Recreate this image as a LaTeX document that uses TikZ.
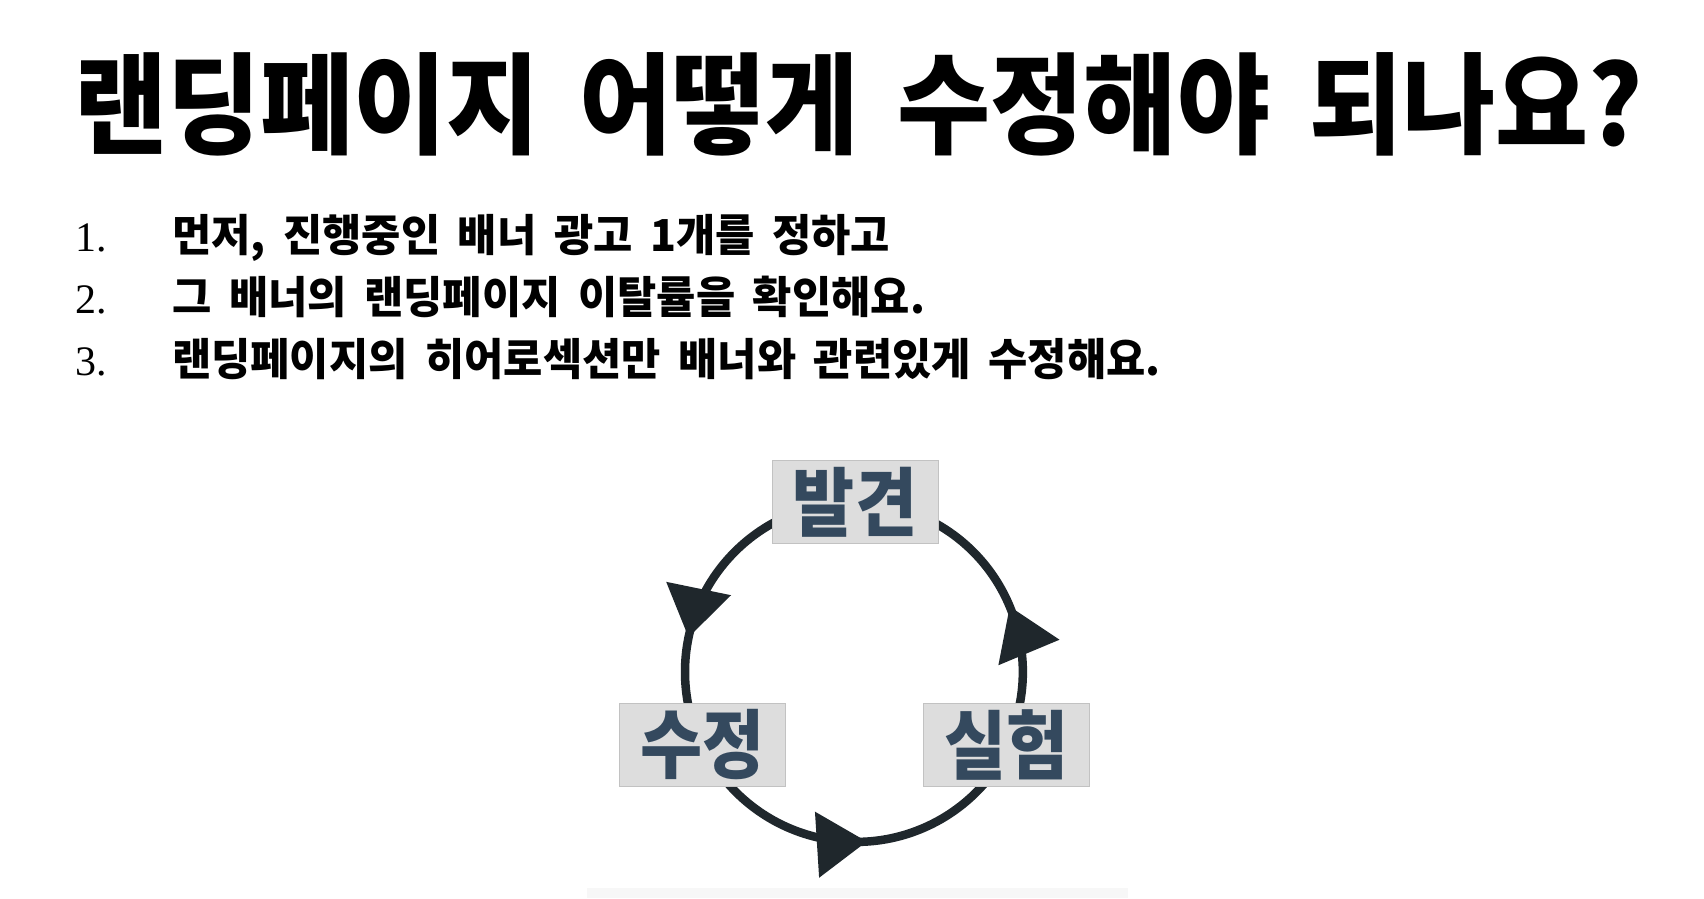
\documentclass[tikz,border=0pt]{standalone}
\usepackage{fontspec}
\usetikzlibrary{arrows.meta,decorations.markings,backgrounds}
\newfontfamily\ktitle{Noto Sans CJK KR}[FakeStretch=0.92,WordSpace=1.7]
\newfontfamily\klist{Noto Sans CJK KR}[FakeStretch=0.97,WordSpace=1.8]
\newfontfamily\kbox{Noto Sans CJK KR}[FakeStretch=0.9]
\newfontfamily\numfont{Liberation Serif}
\definecolor{cyccol}{HTML}{1F272C}
\definecolor{labcol}{HTML}{34495E}
\definecolor{boxfill}{HTML}{DDDDDD}
\definecolor{boxline}{HTML}{C2C2C2}
\definecolor{stripcol}{HTML}{F7F7F7}
\tikzset{
  titletext/.style={anchor=base west,inner sep=0pt,font=\ktitle\bfseries\fontsize{110}{114}\selectfont},
  numtext/.style={anchor=base west,inner sep=0pt,font=\numfont\fontsize{42}{44}\selectfont},
  itemtext/.style={anchor=base west,inner sep=0pt,font=\klist\bfseries\fontsize{44}{48}\selectfont},
  stagebox/.style={draw=boxline,line width=1pt,fill=boxfill,minimum width=166pt,minimum height=83pt,inner sep=0pt,text=labcol,font=\kbox\bfseries\fontsize{75}{80}\selectfont},
  cycarc/.style={draw=cyccol,line width=8.5pt},
  cyctip/.style={decoration={markings,mark=at position #1 with {\arrow[cyccol]{Triangle[length=50pt,width=64pt]}}},postaction={decorate}}
}
\begin{document}
\begin{tikzpicture}[x=1pt,y=1pt]
\useasboundingbox (0,0) rectangle (1704,898);
\node[titletext] (title) at (74,752) {랜딩페이지 어떻게 수정해야 되나요?};
\node[numtext] (n1) at (75,646) {1.};
\node[numtext] (n2) at (75,584) {2.};
\node[numtext] (n3) at (75,522) {3.};
\node[itemtext] (t1) at (172,646) {먼저, 진행중인 배너 광고 1개를 정하고};
\node[itemtext] (t2) at (172,584) {그 배너의 랜딩페이지 이탈률을 확인해요.};
\node[itemtext] (t3) at (172,522) {랜딩페이지의 히어로섹션만 배너와 관련있게 수정해요.};
\node[stagebox] (find) at (855,396) {발견};
\node[stagebox] (fix) at (702.5,153.5) {수정};
\node[stagebox] (test) at (1006.5,153.5) {실험};
\begin{pgfonlayer}{background}
\fill[white] (0,0) rectangle (1704,898);
\fill[stripcol] (587,0) rectangle (1128,10);
\draw[cycarc,cyctip=0.679] (find.center) arc[start angle=90,end angle=205.3,radius=170];
\draw[cycarc,cyctip=0.528] (fix.center) arc[start angle=205.3,end angle=334.7,radius=170];
\draw[cycarc,cyctip=0.416] (test.center) arc[start angle=-25.3,end angle=90,radius=170];
\end{pgfonlayer}
\end{tikzpicture}
\end{document}
